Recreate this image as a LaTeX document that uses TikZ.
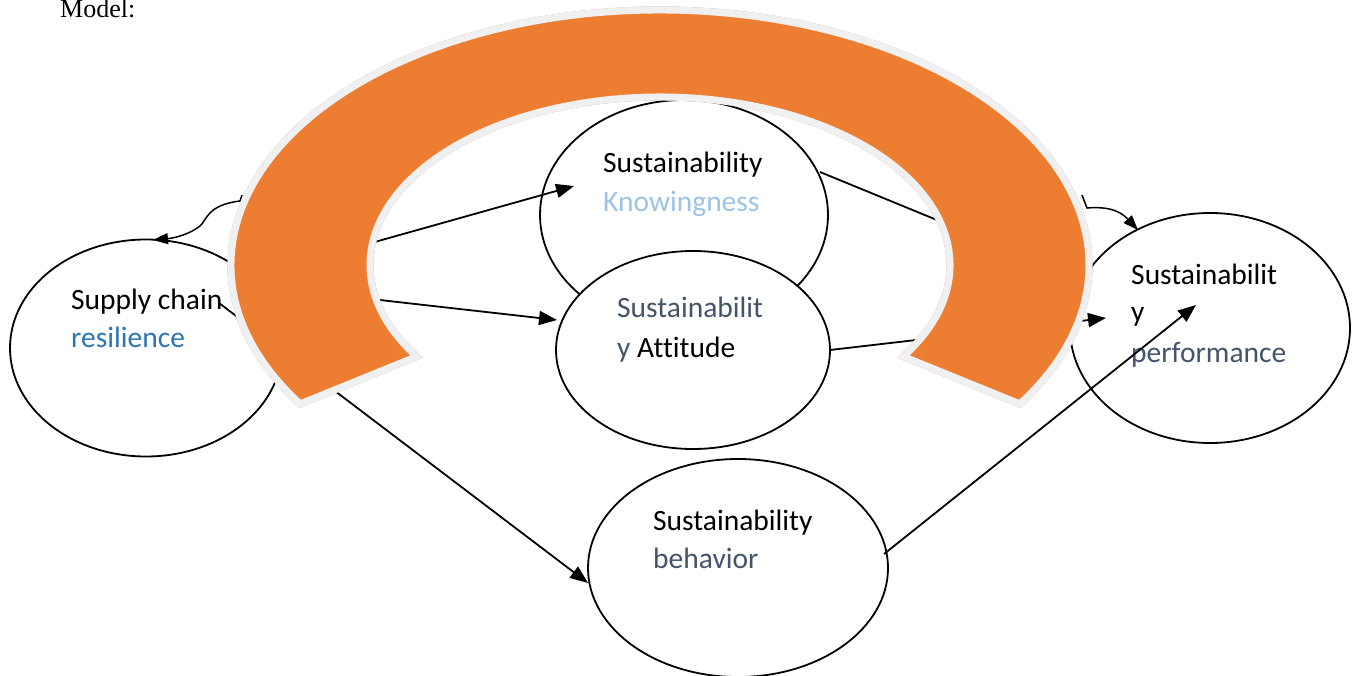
\documentclass[tikz,border=0pt]{standalone}
\usepackage{fontspec}
\setmainfont{Carlito}[Ligatures=NoCommon]
\newfontfamily\timesf{Liberation Serif}
\usetikzlibrary{shapes.geometric,arrows.meta,calc}
\definecolor{arcorange}{HTML}{ED7D31}
\definecolor{arcgray}{HTML}{F0F0F0}
\definecolor{arcshadow}{RGB}{196,160,138}
\definecolor{knowblue}{HTML}{9DC3E6}
\definecolor{resblue}{HTML}{2E75B6}
\definecolor{slate}{HTML}{44546A}
\tikzset{
  construct/.style={ellipse, draw=black, line width=1.8pt, fill=white, inner sep=0pt},
  label/.style={anchor=base west, inner sep=0pt, font=\fontsize{29.5}{34}\selectfont},
  conn/.style={line width=1.8pt},
  arr/.style={conn, -{Triangle[length=18pt,width=14pt]}},
  band/.style={line width=7pt, line join=miter},
}
\begin{document}
\begin{tikzpicture}[x=1pt,y=-1pt]
\useasboundingbox (0,0) rectangle (1352,676);

% title
\node[anchor=base west, inner sep=0pt, font=\timesf\fontsize{26}{30}\selectfont] (title) at (60,18) {Model:};

% constructs
\node[construct, minimum width=288pt, minimum height=230pt] (kn) at (684,215) {};
\node[construct, minimum width=274pt, minimum height=198pt] (att) at (693,350) {};
\node[construct, minimum width=272pt, minimum height=217pt] (sc) at (146,348) {};
\node[construct, minimum width=300pt, minimum height=218pt] (beh) at (738,568) {};
\node[construct, minimum width=280pt, minimum height=230pt] (perf) at (1210,328) {};

% texts
\node[label] (sc1) at (71,310) {Supply chain};
\node[label, text=resblue] (sc2) at (71,348) {resilience};
\node[label] (kn1) at (603,173) {Sustainability};
\node[label, text=knowblue] (kn2) at (603,212) {Knowingness};
\node[label, text=slate] (att1) at (617,317) {Sustainabilit};
\node[label] (att2) at (617,357) {{\color{slate}y} Attitude};
\node[label] (pf1) at (1131,285) {Sustainabilit};
\node[label] (pf2) at (1131,322) {y};
\node[label, text=slate] (pf3) at (1131,362) {performance};
\node[label] (bh1) at (653,530) {Sustainability};
\node[label, text=slate] (bh2) at (653,568) {behavior};

% connector end points
\coordinate (scA) at (300,263);
\coordinate (knTip) at (574,186);
\coordinate (scB) at (300,291);
\coordinate (attTip) at (557,320);
\coordinate (scC) at (219,303);
\coordinate (behTip) at (588,583);
\coordinate (knOut) at (820,172);
\coordinate (knEnd) at (1010,250);
\coordinate (attOut) at (830,350);
\coordinate (perfTipA) at (1106,318);
\coordinate (behOut) at (884,554);
\coordinate (perfTipB) at (1196,305);

% connectors
\draw[arr] (scA) -- (knTip);
\draw[arr] (scB) -- (attTip);
\draw[arr] (scC) -- (behTip);
\draw[conn] (knOut) -- (knEnd);
\draw[arr] (attOut) -- (perfTipA);
\draw[arr] (behOut) -- (perfTipB);

% curved connectors from the band
\coordinate (lcS) at (242,195);
\coordinate (lcTip) at (153,240);
\draw[conn, line width=1.5pt, -{Triangle[length=15pt,width=11pt]}]
  (lcS) -- (240,201) .. controls (207,205) and (207,220) .. (200,226)
  .. controls (190,234) and (175,238) .. (lcTip);
\coordinate (rcS) at (1082,195);
\coordinate (rcTip) at (1138,230);
\draw[conn, line width=1.5pt, -{Triangle[length=15pt,width=11pt]}]
  (rcS) -- (1087,208) .. controls (1112,206) and (1122,213) .. (rcTip);

% the orange band
\coordinate (ac) at (660,265);
\filldraw[band, fill=arcshadow, draw=arcshadow, shift={(3,5)}]
  (ac) ++(147:429 and 255) arc[start angle=147, end angle=393, x radius=429, y radius=255]
  -- ($(ac)+(33:290 and 168)$) arc[start angle=393, end angle=147, x radius=290, y radius=168] -- cycle;
\filldraw[band, fill=arcorange, draw=arcgray]
  (ac) ++(147:429 and 255) arc[start angle=147, end angle=393, x radius=429, y radius=255]
  -- ($(ac)+(33:290 and 168)$) arc[start angle=393, end angle=147, x radius=290, y radius=168] -- cycle;
\end{tikzpicture}
\end{document}
